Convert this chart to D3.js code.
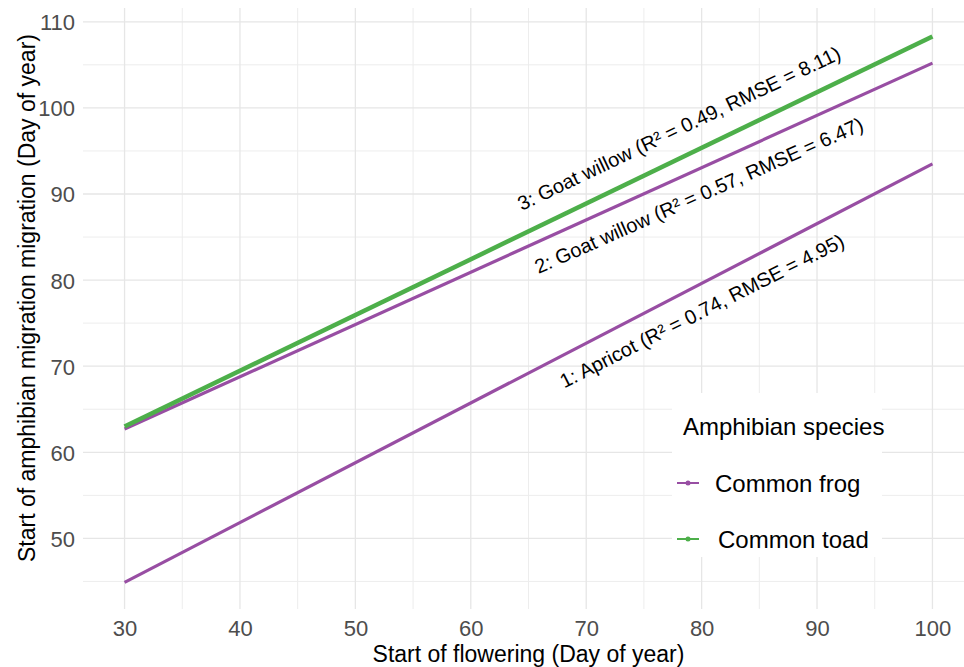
<!DOCTYPE html>
<html>
<head>
<meta charset="utf-8">
<script src="https://cdn.jsdelivr.net/npm/d3@7"></script>
<style>
  body { margin: 0; background: #fff; }
  text { font-family: "Liberation Sans", Arial, sans-serif; }
</style>
</head>
<body>
<div id="graph"></div>
<script>
// Chart data
const species = ["Common frog", "Common toad"];
const speciesColors = ["#984ea3", "#4daf4a"];

// one fitted line per species / plant pair
const fitSpecies = ["Common frog", "Common frog", "Common toad"];
const fitPlant = ["Apricot", "Goat willow", "Goat willow"];
const fitX = [[30, 100], [30, 100], [30, 100]];
const fitY = [[44.9, 93.5], [62.7, 105.2], [63.0, 108.3]];
const fitLabels = [
  "1: Apricot (R\u00B2 = 0.74, RMSE = 4.95)",
  "2: Goat willow (R\u00B2 = 0.57, RMSE = 6.47)",
  "3: Goat willow (R\u00B2 = 0.49, RMSE = 8.11)"
];

// tick labels
const xTicks = [30, 40, 50, 60, 70, 80, 90, 100];
const yTicks = [50, 60, 70, 80, 90, 100, 110];
const xMinor = [35, 45, 55, 65, 75, 85, 95];
const yMinor = [45, 55, 65, 75, 85, 95, 105];

// where the labels sit (data units) and their angle
const labelPos = [
  { x: 80.3, y: 75.7, angle: -26.9 },
  { x: 80.0, y: 89.1, angle: -23.9 },
  { x: 78.3, y: 96.9, angle: -25.5 }
];

// Graph constants
const w = 964;
const h = 667;
const panel = { left: 83, right: 974, top: 8, bottom: 609 };

const svg = d3.select("#graph")
              .append("svg")
              .attr("width", w)
              .attr("height", h);

const xScale = d3.scaleLinear()
                 .domain([26.4, 103.6])
                 .range([panel.left, panel.right]);
const yScale = d3.scaleLinear()
                 .domain([41.8, 111.6])
                 .range([panel.bottom, panel.top]);
const colorScale = d3.scaleOrdinal()
                     .domain(species)
                     .range(speciesColors);

// grid lines
const grid = svg.append("g");
grid.selectAll(".xminor")
    .data(xMinor)
    .enter()
    .append("line")
    .attr("x1", d => xScale(d))
    .attr("x2", d => xScale(d))
    .attr("y1", panel.top)
    .attr("y2", panel.bottom)
    .attr("stroke", "#ededed")
    .attr("stroke-width", 1);
grid.selectAll(".yminor")
    .data(yMinor)
    .enter()
    .append("line")
    .attr("x1", panel.left)
    .attr("x2", panel.right)
    .attr("y1", d => yScale(d))
    .attr("y2", d => yScale(d))
    .attr("stroke", "#ededed")
    .attr("stroke-width", 1);
grid.selectAll(".xmajor")
    .data(xTicks)
    .enter()
    .append("line")
    .attr("x1", d => xScale(d))
    .attr("x2", d => xScale(d))
    .attr("y1", panel.top)
    .attr("y2", panel.bottom)
    .attr("stroke", "#e6e6e6")
    .attr("stroke-width", 1.3);
grid.selectAll(".ymajor")
    .data(yTicks)
    .enter()
    .append("line")
    .attr("x1", panel.left)
    .attr("x2", panel.right)
    .attr("y1", d => yScale(d))
    .attr("y2", d => yScale(d))
    .attr("stroke", "#e6e6e6")
    .attr("stroke-width", 1.3);

// axes (labels only, no domain or ticks)
const xAxis = d3.axisBottom(xScale)
                .tickValues(xTicks)
                .tickSize(0)
                .tickPadding(0);
const yAxis = d3.axisLeft(yScale)
                .tickValues(yTicks)
                .tickSize(0)
                .tickPadding(0);

const gx = svg.append("g")
              .attr("transform", "translate(0," + panel.bottom + ")")
              .call(xAxis);
gx.select(".domain").remove();
gx.selectAll("text")
  .attr("y", 27)
  .attr("dy", 0)
  .style("font-size", "22px")
  .style("font-family", "'Liberation Sans', Arial, sans-serif")
  .attr("fill", "#4d4d4d");

const gy = svg.append("g")
              .attr("transform", "translate(75,0)")
              .call(yAxis);
gy.select(".domain").remove();
gy.selectAll("text")
  .attr("dy", "0.36em")
  .style("font-size", "22px")
  .style("font-family", "'Liberation Sans', Arial, sans-serif")
  .attr("fill", "#4d4d4d");

// axis titles
svg.append("text")
   .text("Start of flowering (Day of year)")
   .attr("x", (xScale(30) + xScale(100)) / 2 + 0)
   .attr("y", 662)
   .attr("text-anchor", "middle")
   .style("font-size", "23px")
   .attr("fill", "#000");
svg.append("text")
   .text("Start of amphibian migration migration (Day of year)")
   .attr("transform", "rotate(-90)")
   .attr("x", -298)
   .attr("y", 35)
   .attr("text-anchor", "middle")
   .style("font-size", "23px")
   .attr("fill", "#000");

// legend background
const legend = svg.append("g");
legend.append("rect")
      .attr("x", 672)
      .attr("y", 393)
      .attr("width", 210)
      .attr("height", 164)
      .attr("fill", "#fff");

// fitted lines
const line = d3.line()
               .x(d => xScale(d[0]))
               .y(d => yScale(d[1]));

svg.selectAll(".fit")
   .data(fitSpecies)
   .enter()
   .append("path")
   .attr("d", (d, i) => line(d3.zip(fitX[i], fitY[i])))
   .attr("fill", "none")
   .attr("stroke", d => colorScale(d))
   .attr("stroke-width", d => d === "Common toad" ? 4.5 : 3.2)
   .attr("stroke-linecap", "butt");

// line labels
svg.selectAll(".fitlabel")
   .data(fitLabels)
   .enter()
   .append("text")
   .text(d => d)
   .attr("transform", (d, i) => "translate(" + xScale(labelPos[i].x) + "," + yScale(labelPos[i].y) + ") rotate(" + labelPos[i].angle + ")")
   .attr("text-anchor", "middle")
   .style("font-size", "20px")
   .attr("fill", "#000");

// legend content
legend.append("text")
      .text("Amphibian species")
      .attr("x", 683)
      .attr("y", 435)
      .style("font-size", "24px")
      .attr("fill", "#000");

const keyY = [483, 539];
const keys = legend.selectAll(".key")
                   .data(species)
                   .enter()
                   .append("g")
                   .attr("transform", (d, i) => "translate(0," + keyY[i] + ")");
keys.append("line")
    .attr("x1", 677)
    .attr("x2", 699)
    .attr("y1", 0)
    .attr("y2", 0)
    .attr("stroke", d => colorScale(d))
    .attr("stroke-width", 2);
keys.append("circle")
    .attr("cx", 688)
    .attr("cy", 0)
    .attr("r", 2.5)
    .attr("fill", d => colorScale(d));
keys.append("text")
    .text(d => d)
    .attr("x", (d, i) => i === 0 ? 715 : 718)
    .attr("y", 9)
    .style("font-size", "24px")
    .attr("fill", "#000");
</script>
</body>
</html>
